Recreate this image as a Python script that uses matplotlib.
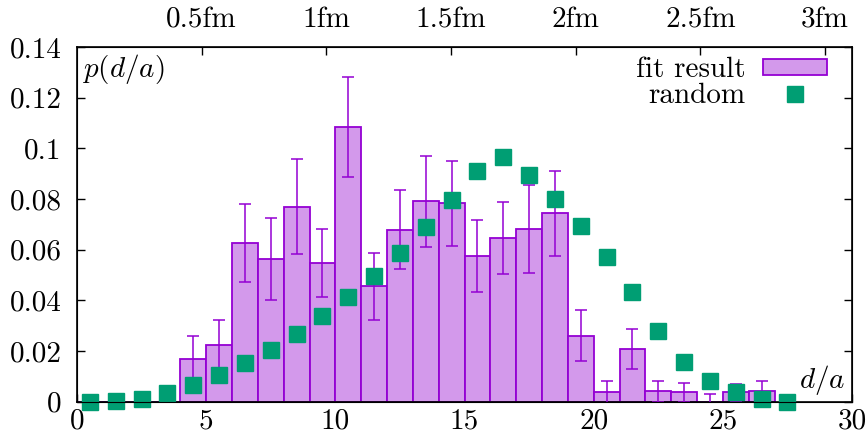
import matplotlib
matplotlib.use("Agg")
import matplotlib.pyplot as plt
from matplotlib.patches import Patch
from matplotlib.lines import Line2D

plt.rcParams["font.family"] = "cmr10"
plt.rcParams["mathtext.fontset"] = "cm"
plt.rcParams["axes.unicode_minus"] = False
plt.rcParams["font.size"] = 21

# histogram bins [i, i+1]
bin_lo = list(range(27))
p_fit = [0.0, 0.0, 0.0, 0.0, 0.0170, 0.0222, 0.0625, 0.0563, 0.0770, 0.0546,
         0.1085, 0.0455, 0.0679, 0.0791, 0.0783, 0.0574, 0.0645, 0.0682, 0.0744,
         0.0260, 0.0038, 0.0208, 0.0041, 0.0036, 0.0, 0.0036, 0.0040]
p_err = [0.0, 0.0, 0.003, 0.003, 0.009, 0.010, 0.0154, 0.016, 0.0189, 0.0134,
         0.0198, 0.0132, 0.0157, 0.018, 0.0168, 0.0142, 0.0142, 0.0173, 0.0168,
         0.010, 0.0044, 0.008, 0.0042, 0.0038, 0.003, 0.0035, 0.004]

# random distribution at bin centres
rand_x = [i + 0.5 for i in range(28)]
rand_p = [0.0, 0.0003, 0.0012, 0.0033, 0.0066, 0.0104, 0.0152, 0.0205, 0.0267,
          0.0336, 0.0413, 0.0497, 0.0588, 0.0688, 0.0795, 0.0910, 0.0964, 0.0893,
          0.0801, 0.0694, 0.0570, 0.0431, 0.0280, 0.0156, 0.0083, 0.0037, 0.0011, 0.0]

a_fm = 0.1036  # lattice spacing in fm
fm_ticks = [0.5, 1, 1.5, 2, 2.5, 3]
fm_labels = ["0.5fm", "1fm", "1.5fm", "2fm", "2.5fm", "3fm"]

y_ticks = [0, 0.02, 0.04, 0.06, 0.08, 0.1, 0.12, 0.14]
y_labels = ["0", "0.02", "0.04", "0.06", "0.08", "0.1", "0.12", "0.14"]

purple = "#9400d3"
fill = "#d399eb"
green = "#009e73"

fig = plt.figure(figsize=(8.67, 4.36), dpi=100)
ax = fig.add_axes([0.0888, 0.079, 0.894, 0.813])

ax.bar(bin_lo, p_fit, width=1, align="edge", color=fill, edgecolor=purple, linewidth=1.3, zorder=2)
ax.errorbar([b + 0.5 for b in bin_lo], p_fit, yerr=p_err, fmt="none", ecolor=purple,
            elinewidth=1.1, capsize=4.5, capthick=1.1, zorder=3)
ax.plot(rand_x, rand_p, "s", color=green, markersize=12, linestyle="none", zorder=4, clip_on=False)

ax.set_xlim(0, 30)
ax.set_ylim(0, 0.14)
ax.set_xticks([0, 5, 10, 15, 20, 25, 30])
ax.set_yticks(y_ticks)
ax.set_yticklabels(y_labels)
ax.tick_params(axis="x", direction="in", length=6, width=1, pad=5, top=False)
ax.tick_params(axis="y", direction="in", length=6, width=1, pad=11, right=True)
for s in ax.spines.values():
    s.set_linewidth(1.2)

ax2 = ax.twiny()
ax2.set_xlim(0, 30)
ax2.set_xticks([f / a_fm for f in fm_ticks])
ax2.set_xticklabels(fm_labels)
ax2.tick_params(axis="x", direction="in", length=6, width=1, pad=10)

ax.text(0.006, 0.985, r"$p(d/a)$", transform=ax.transAxes, ha="left", va="top")
ax.text(29.75, 0.0085, r"$d/a$", ha="right", va="center")

handles = [Patch(facecolor=fill, edgecolor=purple, linewidth=1.3),
           Line2D([], [], marker="s", color=green, markersize=12, linestyle="none")]
ax.legend(handles, ["fit result", "random"], loc="upper right", frameon=False,
          markerfirst=False, handlelength=2.2, handleheight=0.45, labelspacing=0.0,
          borderaxespad=0.2, handletextpad=0.6, bbox_to_anchor=(0.99, 1.022))

fig.savefig("out.png", dpi=100)
